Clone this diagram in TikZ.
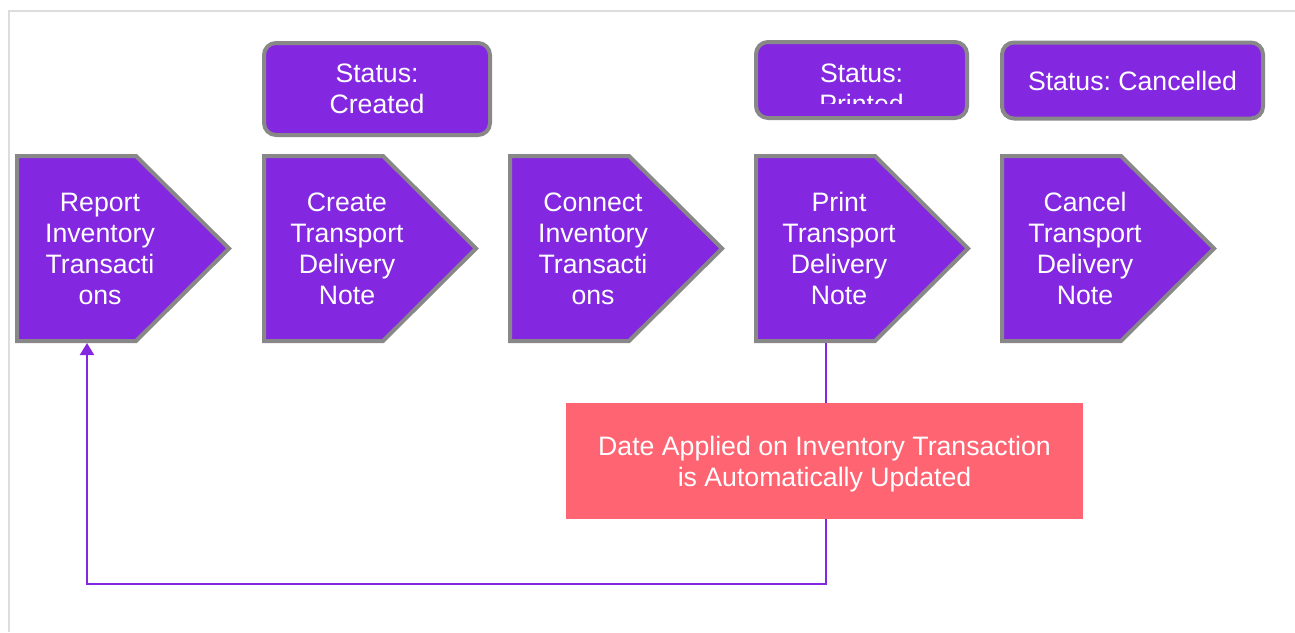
\documentclass[tikz,border=0pt]{standalone}
\usepackage{fontspec}
\setmainfont{Liberation Sans}
\usetikzlibrary{arrows.meta}
\definecolor{vio}{HTML}{8427E0}
\definecolor{edge}{HTML}{888888}
\definecolor{pinkbox}{HTML}{FF6473}
\definecolor{frame}{HTML}{DDDDDD}
\frenchspacing
\tikzset{
  wt/.style={text=white, inner sep=0pt, align=center, font=\fontsize{20pt}{23.25pt}\selectfont},
  chevbox/.style={fill=vio, draw=edge, line width=3pt},
  statusbox/.style={wt, fill=vio, draw=edge, line width=3pt, rounded corners=9pt},
  notebox/.style={wt, fill=pinkbox},
  link/.style={draw=vio, line width=1.5pt},
}
\newcommand\mychev[3]{%
  \draw[chevbox] (#2+2,156) -- (#2+121,156) -- (#2+214,248.5) -- (#2+121,341) -- (#2+2,341) -- cycle;
  \node[wt, anchor=north] (#1) at (#2+85,190) {\strut#3\strut};
  \coordinate (#1-s) at (#2+72,343);
}
\begin{document}
\begin{tikzpicture}[x=0.75pt,y=-0.75pt]
\useasboundingbox (0,0) rectangle (1295,632);
\draw[frame, line width=1.5pt] (9,632) -- (9,11) -- (1295,11);
% status boxes
\node[statusbox, minimum width=169.5pt, minimum height=69pt] (screated) at (377,89) {Status:\\Created};
\node[statusbox, minimum width=158.25pt, minimum height=57pt] (sprinted) at (861.5,80) {};
\begin{scope}
  \clip (754,40) rectangle (969,103);
  \node[wt] (sprintedtext) at (861.5,88.5) {Status:\\Printed};
\end{scope}
\node[statusbox, minimum width=195.75pt, minimum height=57pt] (scancel) at (1132.5,80.5) {Status: Cancelled};
% chevrons
\mychev{c1}{15}{Report\\Inventory\\Transacti\\ons}
\mychev{c2}{262}{Create\\Transport\\Delivery\\Note}
\mychev{c3}{508}{Connect\\Inventory\\Transacti\\ons}
\mychev{c4}{754}{Print\\Transport\\Delivery\\Note}
\mychev{c5}{1000}{Cancel\\Transport\\Delivery\\Note}
% note
\node[notebox, minimum width=387.75pt, minimum height=87pt] (note) at (824.5,461) {};
\node[wt] (notetext) at (824.5,464) {Date Applied on Inventory Transaction\\is Automatically Updated};
% connectors
\draw[link] (c4-s) -- (c4-s |- note.north);
\coordinate (turn) at (826,584);
\draw[link, -{Triangle[length=9pt,width=10.5pt]}] (c4-s |- note.south) -- (turn) -| (c1-s);
\end{tikzpicture}
\end{document}
